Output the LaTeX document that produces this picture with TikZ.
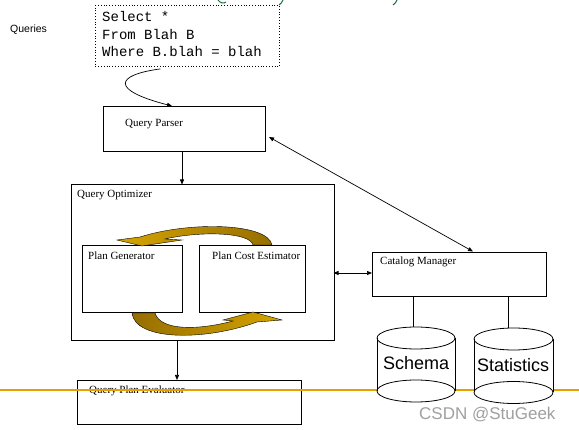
\documentclass[tikz,border=0pt]{standalone}
\usepackage{fontspec}
\setmainfont{Liberation Serif}
\newfontfamily\arialf{Liberation Sans}
\newfontfamily\courf{Liberation Mono}
\usetikzlibrary{arrows.meta,calc}
\definecolor{goldlt}{RGB}{214,165,0}
\definecolor{golddk}{RGB}{150,110,0}
\definecolor{orangeline}{RGB}{230,160,0}
\definecolor{wmgray}{RGB}{160,160,160}
\definecolor{grn}{RGB}{20,110,60}
\tikzset{
  box/.style={draw, line width=0.8pt, anchor=north west, inner sep=0pt},
  lbl/.style={anchor=base west, inner sep=0pt, font=\fontsize{11}{13}\selectfont},
  conn/.style={line width=0.7pt},
  tip/.style={-{Triangle[length=5pt,width=4pt]}},
  dtip/.style={{Triangle[length=5pt,width=4pt]}-{Triangle[length=5pt,width=4pt]}},
  goldarrowtop/.style={draw=black, line width=0.4pt, left color=goldlt, right color=golddk},
  goldarrowbot/.style={draw=black, line width=0.4pt, left color=golddk, right color=goldlt},
}
\begin{document}
\begin{tikzpicture}[x=1pt,y=-1pt]
\useasboundingbox (0,0) rectangle (579,430);
\fill[white] (0,0) rectangle (579,430);

% green fragments at the top edge
\draw[grn, line width=1pt] (218,0) .. controls (220,3) and (224,4) .. (226,2);
\draw[grn, line width=1pt] (283,0) .. controls (282,2) and (281,4) .. (279,5);
\draw[grn, line width=1pt] (397,0) .. controls (396,2) and (395,4) .. (393,5);

% Queries label
\node[anchor=base west, inner sep=0pt, font=\arialf\fontsize{10.5}{12}\selectfont] (queries) at (10,33) {Queries};

% SQL box
\node[box, dotted, line width=0.9pt, minimum width=184pt, minimum height=61pt] (sql) at (95,5) {};
\node[anchor=base west, inner sep=0pt, font=\courf\fontsize{14}{17}\selectfont] (sql1) at (102,21.5) {Select *};
\node[anchor=base west, inner sep=0pt, font=\courf\fontsize{14}{17}\selectfont] (sql2) at (102,39.3) {From Blah B};
\node[anchor=base west, inner sep=0pt, font=\courf\fontsize{14}{17}\selectfont] (sql3) at (102,57) {Where B.blah = blah};

% Query parser
\node[box, minimum width=162pt, minimum height=45pt] (qp) at (103,106) {};
\node[lbl] (qpt) at (125,127) {Query Parser};

% Query optimizer
\node[box, minimum width=263pt, minimum height=156pt] (qo) at (70.5,184.5) {};
\node[lbl] (qot) at (77,198) {Query Optimizer};
\node[box, minimum width=100pt, minimum height=67pt] (pg) at (82,245) {};
\node[lbl] (pgt) at (88,260) {Plan Generator};
\node[box, minimum width=106pt, minimum height=67pt] (pce) at (199,245) {};
\node[lbl] (pcet) at (212,260) {Plan Cost Estimator};

% gold circular arrows
\path[goldarrowtop] (272,245) .. controls (268,223) and (190,221) .. (140,237)
   -- (117,240) -- (142,246) -- (182,240) -- (165,239)
   .. controls (200,231) and (250,232) .. (253,245) -- cycle;
\path[goldarrowbot] (132,313) .. controls (135,341) and (205,341) .. (257,322)
   -- (282,320) -- (253,312) -- (223,320) -- (233,321)
   .. controls (195,331) and (160,330) .. (155,313) -- cycle;

% Catalog manager
\node[box, minimum width=174pt, minimum height=44pt] (cm) at (372,252) {};
\node[lbl] (cmt) at (380,265) {Catalog Manager};

% Query plan evaluator
\node[box, minimum width=224pt, minimum height=44pt] (qpe) at (77,380) {};
\node[lbl] (qpet) at (89,394) {Query Plan Evaluator};

% orange line
\draw[draw=orangeline, line width=1.3pt] (0,390) -- (579,390);

% cylinders
\fill[white] (377,338) -- (377,391) arc[start angle=180,end angle=360,x radius=39pt,y radius=11pt] -- (455,338) -- cycle;
\draw[line width=0.8pt] (377,338) -- (377,391) (455,338) -- (455,391);
\draw[line width=0.8pt] (416,338) ellipse[x radius=39pt,y radius=11pt];
\draw[line width=0.8pt] (416,391) ellipse[x radius=39pt,y radius=11pt];
\fill[white] (474,339) -- (474,392.5) arc[start angle=180,end angle=360,x radius=39.5pt,y radius=11pt] -- (553,339) -- cycle;
\draw[line width=0.8pt] (474,339) -- (474,392.5) (553,339) -- (553,392.5);
\draw[line width=0.8pt] (513.5,339) ellipse[x radius=39.5pt,y radius=11pt];
\draw[line width=0.8pt] (513.5,392.5) ellipse[x radius=39.5pt,y radius=11pt];
\node[anchor=base west, inner sep=0pt, font=\arialf\fontsize{18}{20}\selectfont] (scht) at (383,370) {Schema};
\node[anchor=base west, inner sep=0pt, font=\arialf\fontsize{18}{20}\selectfont] (stat) at (477,372) {Statistics};

% connectors
\draw[conn, tip] (sql.south) ++(-27,2) .. controls (115,75) and (110,90) .. (172,106);
\draw[conn, tip] (182,151) -- (182,184.5);
\draw[conn, tip] (177,340) -- (177,380);
\draw[conn, dtip] (333.5,273) -- (372,273);
\draw[conn, dtip] (269,137) -- (473,251.5);
\draw[conn] (413,296) -- (413,327);
\draw[conn] (508,296) -- (508,328);

% watermark
\node[anchor=base west, inner sep=0pt, text=wmgray, font=\arialf\fontsize{17}{19}\selectfont] (wm) at (419,420) {CSDN @StuGeek};
\end{tikzpicture}
\end{document}
